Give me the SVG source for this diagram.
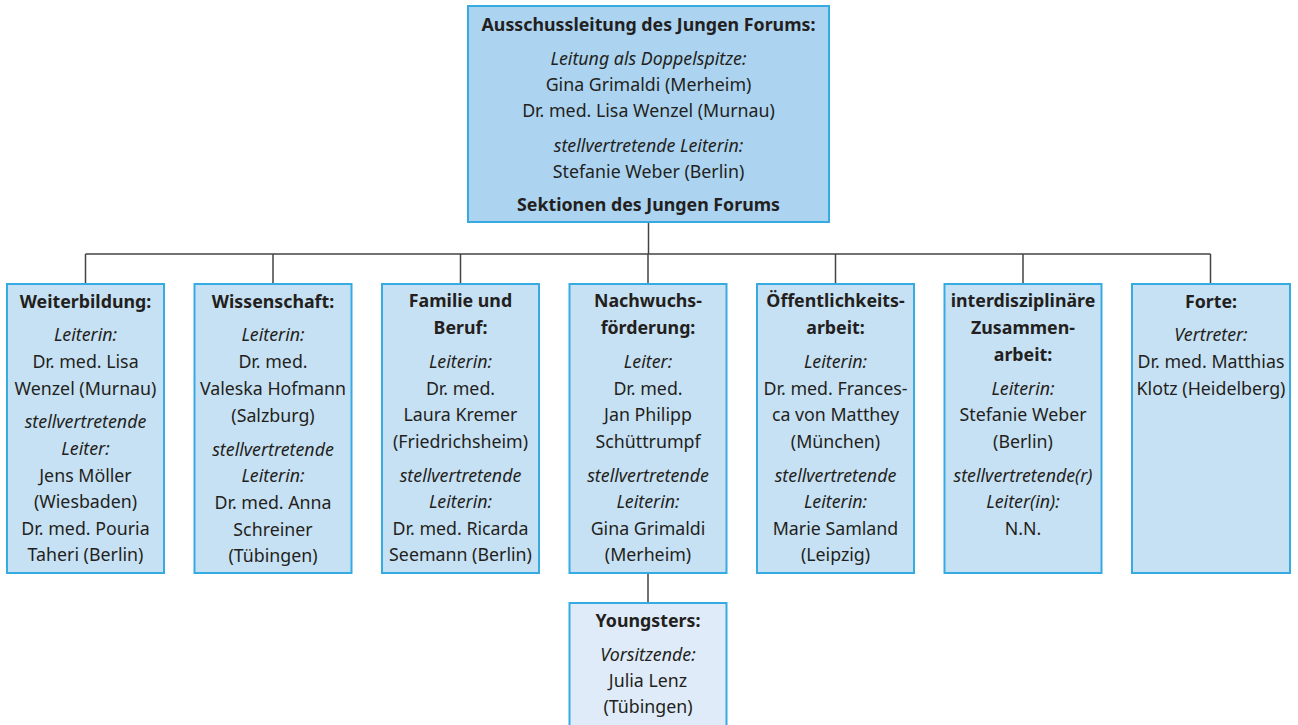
<svg xmlns="http://www.w3.org/2000/svg" width="1298" height="725" viewBox="0 0 1298 725">
<style>
.box{stroke:#36abe2;stroke-width:2}
.top{fill:#acd4f1}
.sec{fill:#c7e1f4}
.yng{fill:#dfebf8}
text{font-family:"Noto Sans","Open Sans",sans-serif;font-size:17.8px;fill:#231f20;text-anchor:middle}
.b{font-weight:bold}
.i{font-style:italic}
.con{stroke:#444;stroke-width:1.5;fill:none}
</style>
<rect width="1298" height="725" fill="#fff"/>
<g id="connectors">
<path class="con" d="M648.5 222V254M85.5 254H1210.5M85.5 254V284M273 254V284M460.5 254V284M648 254V284M835.5 254V284M1023 254V284M1210.5 254V284M648 573V603"/>
</g>
<g id="leitung">
<rect class="box top" x="468" y="6" width="361" height="216"/>
<text x="648.5" y="31" class="b">Ausschussleitung des Jungen Forums:</text>
<text x="648.5" y="65" class="i">Leitung als Doppelspitze:</text>
<text x="648.5" y="91">Gina Grimaldi (Merheim)</text>
<text x="648.5" y="117">Dr. med. Lisa Wenzel (Murnau)</text>
<text x="648.5" y="152" class="i">stellvertretende Leiterin:</text>
<text x="648.5" y="178">Stefanie Weber (Berlin)</text>
<text x="648.5" y="211" class="b">Sektionen des Jungen Forums</text>
</g>
<g id="weiterbildung">
<rect class="box sec" x="7" y="284" width="157" height="289"/>
<text x="85.5" y="308" class="b">Weiterbildung:</text>
<text x="85.5" y="341" class="i">Leiterin:</text>
<text x="85.5" y="368">Dr. med. Lisa</text>
<text x="85.5" y="395">Wenzel (Murnau)</text>
<text x="85.5" y="428" class="i">stellvertretende</text>
<text x="85.5" y="455" class="i">Leiter:</text>
<text x="85.5" y="482">Jens Möller</text>
<text x="85.5" y="508">(Wiesbaden)</text>
<text x="85.5" y="535">Dr. med. Pouria</text>
<text x="85.5" y="561">Taheri (Berlin)</text>
</g>
<g id="wissenschaft">
<rect class="box sec" x="194.5" y="284" width="157" height="289"/>
<text x="273" y="308" class="b">Wissenschaft:</text>
<text x="273" y="341" class="i">Leiterin:</text>
<text x="273" y="368">Dr. med.</text>
<text x="273" y="395">Valeska Hofmann</text>
<text x="273" y="422">(Salzburg)</text>
<text x="273" y="456" class="i">stellvertretende</text>
<text x="273" y="482" class="i">Leiterin:</text>
<text x="273" y="509">Dr. med. Anna</text>
<text x="273" y="536">Schreiner</text>
<text x="273" y="562">(Tübingen)</text>
</g>
<g id="familie">
<rect class="box sec" x="382" y="284" width="157" height="289"/>
<text x="460.5" y="307" class="b">Familie und</text>
<text x="460.5" y="334" class="b">Beruf:</text>
<text x="460.5" y="368" class="i">Leiterin:</text>
<text x="460.5" y="395">Dr. med.</text>
<text x="460.5" y="421">Laura Kremer</text>
<text x="460.5" y="448">(Friedrichsheim)</text>
<text x="460.5" y="482" class="i">stellvertretende</text>
<text x="460.5" y="508" class="i">Leiterin:</text>
<text x="460.5" y="535">Dr. med. Ricarda</text>
<text x="460.5" y="561">Seemann (Berlin)</text>
</g>
<g id="nachwuchs">
<rect class="box sec" x="569.5" y="284" width="157" height="289"/>
<text x="648" y="307" class="b">Nachwuchs-</text>
<text x="648" y="334" class="b">förderung:</text>
<text x="648" y="368" class="i">Leiter:</text>
<text x="648" y="395">Dr. med.</text>
<text x="648" y="421">Jan Philipp</text>
<text x="648" y="448">Schüttrumpf</text>
<text x="648" y="482" class="i">stellvertretende</text>
<text x="648" y="508" class="i">Leiterin:</text>
<text x="648" y="535">Gina Grimaldi</text>
<text x="648" y="561">(Merheim)</text>
</g>
<g id="oeffentlichkeit">
<rect class="box sec" x="757" y="284" width="157" height="289"/>
<text x="835.5" y="307" class="b">Öffentlichkeits-</text>
<text x="835.5" y="334" class="b">arbeit:</text>
<text x="835.5" y="368" class="i">Leiterin:</text>
<text x="835.5" y="395">Dr. med. Frances-</text>
<text x="835.5" y="421">ca von Matthey</text>
<text x="835.5" y="448">(München)</text>
<text x="835.5" y="482" class="i">stellvertretende</text>
<text x="835.5" y="508" class="i">Leiterin:</text>
<text x="835.5" y="535">Marie Samland</text>
<text x="835.5" y="561">(Leipzig)</text>
</g>
<g id="interdisziplinaer">
<rect class="box sec" x="944.5" y="284" width="157" height="289"/>
<text x="1023" y="307" class="b">interdisziplinäre</text>
<text x="1023" y="334" class="b">Zusammen-</text>
<text x="1023" y="361" class="b">arbeit:</text>
<text x="1023" y="395" class="i">Leiterin:</text>
<text x="1023" y="421">Stefanie Weber</text>
<text x="1023" y="448">(Berlin)</text>
<text x="1023" y="482" class="i">stellvertretende(r)</text>
<text x="1023" y="508" class="i">Leiter(in):</text>
<text x="1023" y="535">N.N.</text>
</g>
<g id="forte">
<rect class="box sec" x="1132" y="284" width="158" height="289"/>
<text x="1211" y="308" class="b">Forte:</text>
<text x="1211" y="341" class="i">Vertreter:</text>
<text x="1211" y="368">Dr. med. Matthias</text>
<text x="1211" y="395">Klotz (Heidelberg)</text>
</g>
<g id="youngsters">
<rect class="box yng" x="569.5" y="603" width="157" height="130"/>
<text x="648" y="627" class="b">Youngsters:</text>
<text x="648" y="661" class="i">Vorsitzende:</text>
<text x="648" y="687">Julia Lenz</text>
<text x="648" y="713">(Tübingen)</text>
</g>
</svg>
